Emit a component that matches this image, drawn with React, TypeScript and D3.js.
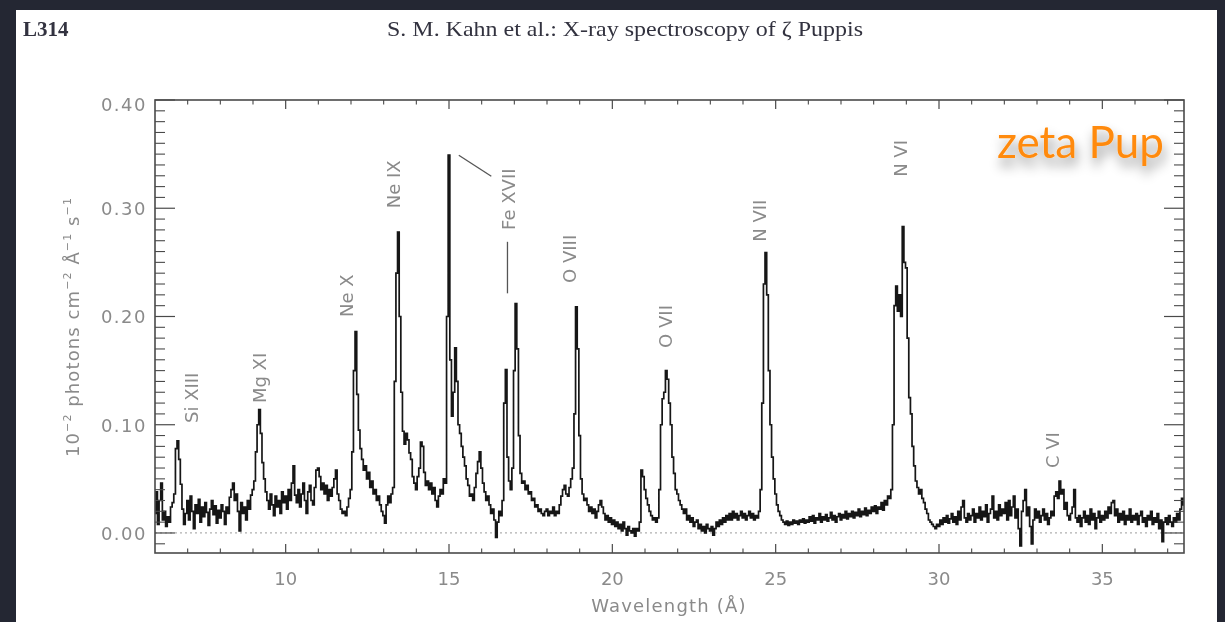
import React from "react";
import * as d3 from "d3";

// ---------- data ----------
const lambdaStart = 6.0;
const lambdaStep = 0.05;
// flux in 10^-2 photons cm^-2 Å^-1 s^-1, one row per Å (6.00 .. 37.50)
const flux: number[] = [
  0.018,0.038,0.008,0.030,0.046,0.012,0.020,0.006,0.015,0.010,0.024,0.028,0.036,0.078,0.085,0.068,0.045,0.022,0.008,0.018, // 6
  0.030,0.012,0.034,0.020,0.004,0.026,0.018,0.031,0.010,0.024,0.015,0.028,0.019,0.007,0.022,0.030,0.017,0.025,0.009,0.021, // 7
  0.014,0.026,0.020,0.008,0.024,0.018,0.033,0.040,0.046,0.030,0.036,0.020,0.002,0.028,0.018,0.024,0.012,0.030,0.022,0.035, // 8
  0.040,0.048,0.075,0.100,0.114,0.092,0.065,0.050,0.038,0.030,0.022,0.036,0.026,0.016,0.034,0.024,0.030,0.018,0.038,0.028, // 9
  0.034,0.022,0.040,0.030,0.046,0.062,0.035,0.028,0.040,0.024,0.036,0.046,0.030,0.018,0.038,0.044,0.030,0.026,0.042,0.058, // 10
  0.060,0.052,0.040,0.046,0.036,0.044,0.030,0.040,0.034,0.042,0.050,0.058,0.036,0.030,0.022,0.018,0.020,0.016,0.024,0.032, // 11
  0.040,0.075,0.150,0.186,0.128,0.095,0.078,0.068,0.058,0.062,0.050,0.056,0.042,0.048,0.036,0.040,0.030,0.034,0.026,0.020, // 12
  0.016,0.009,0.026,0.034,0.028,0.036,0.042,0.140,0.240,0.278,0.200,0.130,0.094,0.082,0.092,0.086,0.074,0.068,0.052,0.046, // 13
  0.040,0.052,0.060,0.084,0.080,0.056,0.044,0.048,0.040,0.046,0.036,0.042,0.030,0.024,0.034,0.040,0.036,0.050,0.046,0.200, // 14
  0.349,0.160,0.108,0.130,0.171,0.140,0.100,0.092,0.080,0.070,0.062,0.050,0.044,0.034,0.036,0.030,0.042,0.055,0.066,0.075, // 15
  0.060,0.046,0.038,0.030,0.034,0.026,0.018,0.022,0.012,-0.004,0.010,0.020,0.016,0.030,0.120,0.151,0.070,0.048,0.040,0.060, // 16
  0.150,0.212,0.170,0.090,0.055,0.046,0.048,0.040,0.044,0.036,0.038,0.030,0.032,0.024,0.026,0.020,0.022,0.018,0.016,0.020, // 17
  0.022,0.016,0.020,0.018,0.024,0.016,0.020,0.018,0.026,0.034,0.040,0.044,0.036,0.034,0.042,0.050,0.060,0.110,0.209,0.170, // 18
  0.090,0.050,0.036,0.030,0.032,0.026,0.020,0.024,0.018,0.022,0.014,0.020,0.026,0.030,0.024,0.018,0.012,0.016,0.010,0.014, // 19
  0.008,0.012,0.006,0.010,0.004,0.008,0.002,0.010,0.004,-0.002,0.006,0.002,0.000,0.004,-0.003,0.004,0.002,0.010,0.058,0.052, // 20
  0.040,0.032,0.026,0.020,0.016,0.012,0.014,0.010,0.014,0.040,0.100,0.124,0.130,0.150,0.142,0.120,0.100,0.070,0.055,0.040, // 21
  0.036,0.030,0.026,0.022,0.018,0.022,0.012,0.016,0.010,0.014,0.006,0.010,0.012,0.004,0.008,0.002,0.006,0.000,0.008,0.004, // 22
  0.002,0.006,-0.002,0.004,0.010,0.006,0.012,0.008,0.014,0.010,0.016,0.012,0.018,0.012,0.020,0.014,0.018,0.012,0.016,0.020, // 23
  0.014,0.018,0.012,0.016,0.020,0.014,0.018,0.012,0.016,0.014,0.020,0.040,0.120,0.230,0.259,0.220,0.150,0.100,0.070,0.050, // 24
  0.036,0.026,0.020,0.016,0.012,0.010,0.008,0.011,0.007,0.010,0.008,0.012,0.009,0.011,0.008,0.012,0.010,0.013,0.009,0.012, // 25
  0.010,0.015,0.011,0.016,0.009,0.014,0.012,0.018,0.010,0.015,0.012,0.017,0.011,0.014,0.019,0.012,0.016,0.010,0.015,0.018, // 26
  0.012,0.017,0.014,0.020,0.013,0.018,0.015,0.020,0.014,0.019,0.016,0.022,0.015,0.020,0.017,0.023,0.016,0.021,0.018,0.024, // 27
  0.020,0.025,0.018,0.024,0.022,0.028,0.021,0.030,0.026,0.034,0.032,0.040,0.100,0.210,0.228,0.205,0.220,0.200,0.283,0.250, // 28
  0.245,0.180,0.125,0.110,0.080,0.062,0.048,0.042,0.036,0.040,0.032,0.028,0.022,0.018,0.012,0.010,0.008,0.006,0.004,0.008, // 29
  0.006,0.012,0.008,0.014,0.010,0.016,0.009,0.013,0.018,0.010,0.015,0.008,0.020,0.012,0.024,0.030,0.014,0.010,0.018,0.012, // 30
  0.016,0.022,0.010,0.018,0.014,0.024,0.012,0.020,0.015,0.026,0.010,0.018,0.022,0.034,0.014,0.020,0.012,0.026,0.016,0.022, // 31
  0.018,0.028,0.012,0.030,0.016,0.024,0.034,0.014,0.022,0.004,-0.012,0.020,0.030,0.040,0.016,0.024,0.006,-0.010,0.012,0.022, // 32
  0.014,0.020,0.010,0.016,0.022,0.012,0.018,0.008,0.014,0.020,0.016,0.034,0.038,0.032,0.048,0.036,0.040,0.022,0.028,0.016, // 33
  0.012,0.018,0.024,0.040,0.014,0.010,0.016,0.006,0.014,0.020,0.010,0.016,0.008,0.022,0.012,0.018,0.004,0.014,0.020,0.010, // 34
  0.016,0.012,0.020,0.014,0.024,0.018,0.028,0.030,0.016,0.022,0.010,0.018,0.012,0.020,0.008,0.016,0.012,0.022,0.010,0.016, // 35
  0.012,0.018,0.008,0.016,0.020,0.010,0.014,0.006,0.016,0.012,0.020,0.008,0.014,0.010,0.018,0.004,0.012,-0.008,0.010,0.014, // 36
  0.008,0.016,0.010,0.006,0.014,0.010,0.018,0.012,0.022,0.032,0.026, // 37
];

const xMajorTicks = [10, 15, 20, 25, 30, 35];
const yMajorTicks = [0.0, 0.1, 0.2, 0.3, 0.4];

const lineNames = ["Si XIII", "Mg XI", "Ne X", "Ne IX", "Fe XVII", "O VIII", "O VII", "N VII", "N VI", "C VI"];
const lineLabelLambda = [7.12, 9.21, 11.87, 13.29, 16.81, 18.7, 21.64, 24.52, 28.81, 33.49];
const lineLabelFlux = [0.1016, 0.12, 0.1995, 0.3, 0.28, 0.231, 0.171, 0.269, 0.329, 0.06];

// Fe XVII marker segments [lambda1, flux1, lambda2, flux2]
const feMarkers = [
  [16.79, 0.269, 16.79, 0.2214],
  [15.3, 0.349, 16.295, 0.3295],
];

const headerLeft = "L314";
const headerTitle = "S. M. Kahn et al.: X-ray spectroscopy of ζ Puppis";
const xTitle = "Wavelength (Å)";
const starName = "zeta Pup";

// ---------- layout ----------
const W = 1225;
const H = 622;
const plot = { left: 155, right: 1184, top: 100, bottom: 553 };

export default function App() {
  const x = d3.scaleLinear().domain([6, 37.5]).range([plot.left, plot.right]);
  const y = d3.scaleLinear().domain([-0.0185, 0.4]).range([plot.bottom, plot.top]);

  const pts = flux.map((f, i) => ({ w: lambdaStart + i * lambdaStep, f }));
  const line = d3
    .line<{ w: number; f: number }>()
    .x((d) => x(d.w))
    .y((d) => y(d.f))
    .curve(d3.curveStep);

  const xMinor = d3.range(7, 38, 1).filter((v) => !xMajorTicks.includes(v));
  const yMinor = d3.range(-1, 40, 1).filter((v) => v % 10 !== 0).map((v) => v / 100);

  const axisColor = "#4a4a4a";
  const labelColor = "#8a8a8a";
  const font = "'DejaVu Sans', sans-serif";

  const xMajLen = 9, xMinLen = 4.5, yMajLen = 20, yMinLen = 10;

  return (
    <svg
      width={W}
      height={H}
      style={{ position: "absolute", left: 0, top: 0, display: "block" }}
      xmlns="http://www.w3.org/2000/svg"
    >
      <defs>
        <clipPath id="plotClip">
          <rect x={plot.left} y={plot.top} width={plot.right - plot.left} height={plot.bottom - plot.top} />
        </clipPath>
        <filter id="shadow" x="-20%" y="-40%" width="140%" height="200%">
          <feDropShadow dx="2" dy="8" stdDeviation="6" floodColor="#000" floodOpacity="0.45" />
        </filter>
        <filter id="soft" x="-5%" y="-5%" width="110%" height="110%">
          <feGaussianBlur stdDeviation="0.45" />
        </filter>
      </defs>

      <rect x={0} y={0} width={W} height={H} fill="#242733" />
      <rect x={16} y={10} width={1201} height={H - 10} fill="#ffffff" />

      {/* header */}
      <g filter="url(#soft)">
        <text x={23} y={36} fontFamily="'Liberation Serif', serif" fontWeight="bold" fontSize={21} fill="#33333f">
          {headerLeft}
        </text>
        <text
          x={387}
          y={36}
          textLength={476}
          lengthAdjust="spacingAndGlyphs"
          fontFamily="'Liberation Serif', serif"
          fontSize={21}
          fill="#33333f"
        >
          {headerTitle}
        </text>
      </g>

      <g filter="url(#soft)">
        {/* zero line */}
        <line x1={plot.left} x2={plot.right} y1={y(0)} y2={y(0)} stroke="#b0b0b0" strokeWidth={1.2} strokeDasharray="2,3" />

        {/* spectrum */}
        <path
          d={line(pts) || ""}
          fill="none"
          stroke="#151515"
          strokeWidth={1.7}
          strokeLinejoin="miter"
          clipPath="url(#plotClip)"
        />

        {/* frame */}
        <rect
          x={plot.left}
          y={plot.top}
          width={plot.right - plot.left}
          height={plot.bottom - plot.top}
          fill="none"
          stroke={axisColor}
          strokeWidth={1.6}
        />

        {/* x ticks */}
        {xMajorTicks.map((t) => (
          <g key={"xM" + t}>
            <line x1={x(t)} x2={x(t)} y1={plot.bottom} y2={plot.bottom - xMajLen} stroke={axisColor} strokeWidth={1.2} />
            <line x1={x(t)} x2={x(t)} y1={plot.top} y2={plot.top + xMajLen} stroke={axisColor} strokeWidth={1.2} />
            <text x={x(t)} y={585} textAnchor="middle" fontFamily={font} fontSize={18} fill={labelColor}>
              {t}
            </text>
          </g>
        ))}
        {xMinor.map((t) => (
          <g key={"xm" + t}>
            <line x1={x(t)} x2={x(t)} y1={plot.bottom} y2={plot.bottom - xMinLen} stroke={axisColor} strokeWidth={1.1} />
            <line x1={x(t)} x2={x(t)} y1={plot.top} y2={plot.top + xMinLen} stroke={axisColor} strokeWidth={1.1} />
          </g>
        ))}

        {/* y ticks */}
        {yMajorTicks.map((t) => (
          <g key={"yM" + t}>
            <line x1={plot.left} x2={plot.left + yMajLen} y1={y(t)} y2={y(t)} stroke={axisColor} strokeWidth={1.2} />
            <line x1={plot.right} x2={plot.right - yMajLen} y1={y(t)} y2={y(t)} stroke={axisColor} strokeWidth={1.2} />
            <text
              x={147}
              y={Math.max(y(t), 104) + 7}
              textAnchor="end"
              fontFamily={font}
              fontSize={18}
              letterSpacing={1.5}
              fill={labelColor}
            >
              {t.toFixed(2)}
            </text>
          </g>
        ))}
        {yMinor.map((t) => (
          <g key={"ym" + t}>
            <line x1={plot.left} x2={plot.left + yMinLen} y1={y(t)} y2={y(t)} stroke={axisColor} strokeWidth={1.1} />
            <line x1={plot.right} x2={plot.right - yMinLen} y1={y(t)} y2={y(t)} stroke={axisColor} strokeWidth={1.1} />
          </g>
        ))}

        {/* axis titles */}
        <text x={669} y={612} textAnchor="middle" fontFamily={font} fontSize={18} letterSpacing={1.2} fill={labelColor}>
          {xTitle}
        </text>
        <text
          transform={`translate(79,327) rotate(-90)`}
          textAnchor="middle"
          fontFamily={font}
          fontSize={18}
          letterSpacing={1.1}
          fill={labelColor}
        >
          <tspan>10</tspan>
          <tspan fontSize={11} dy={-8}>−2</tspan>
          <tspan dy={8}> photons cm</tspan>
          <tspan fontSize={11} dy={-8}>−2</tspan>
          <tspan dy={8}> Å</tspan>
          <tspan fontSize={11} dy={-8}>−1</tspan>
          <tspan dy={8}> s</tspan>
          <tspan fontSize={11} dy={-8}>−1</tspan>
        </text>

        {/* line labels */}
        {lineNames.map((n, i) => (
          <text
            key={n}
            transform={`translate(${x(lineLabelLambda[i])},${y(lineLabelFlux[i])}) rotate(-90)`}
            dy="0.36em"
            fontFamily={font}
            fontSize={18}
            fill={labelColor}
          >
            {n}
          </text>
        ))}
        {feMarkers.map((m, i) => (
          <line
            key={"fe" + i}
            x1={x(m[0])}
            y1={y(m[1])}
            x2={x(m[2])}
            y2={y(m[3])}
            stroke="#555"
            strokeWidth={1.3}
          />
        ))}
      </g>

      {/* star name */}
      <text
        x={997}
        y={158}
        fontFamily="Lato, 'Open Sans', sans-serif"
        fontSize={44}
        fill="#ff8a0d"
        filter="url(#shadow)"
      >
        {starName}
      </text>
    </svg>
  );
}
